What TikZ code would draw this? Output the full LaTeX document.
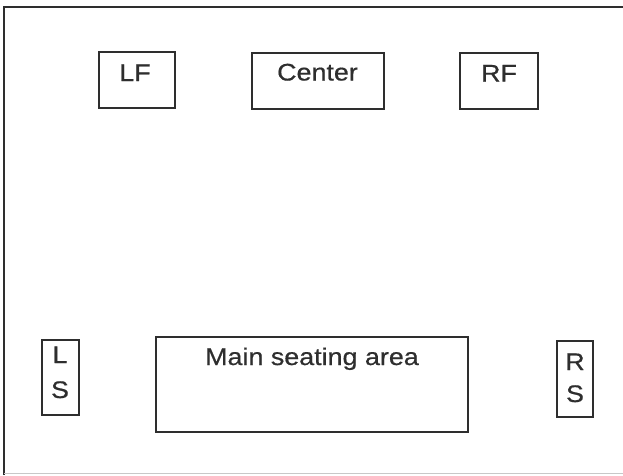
\documentclass[tikz,border=0pt]{standalone}
\usepackage{fontspec}
\newfontfamily\lblfont[FakeStretch=1.12,FakeBold=0.6]{Liberation Sans}
\definecolor{ink}{HTML}{2E2E2E}
\definecolor{faint}{HTML}{C8C8C8}
\begin{document}
\begin{tikzpicture}[x=1pt,y=-1pt,
  box/.style={draw=ink, line width=1.7pt, inner sep=0pt},
  lbl/.style={text=ink, font=\lblfont\fontsize{24}{35}\selectfont, inner sep=0pt, anchor=base},
  frame/.style={draw=ink, line width=1.7pt}]
\useasboundingbox (0,0) rectangle (623,475);
% outer frame (cut off at right and bottom)
\coordinate (fbl) at (4,475);
\coordinate (ftl) at (4,7);
\coordinate (ftr) at (623,7);
\coordinate (fbb) at (4,473);
\coordinate (fbr) at (623,473);
\draw[frame] (fbl) -- (ftl) -- (ftr);
\draw[draw=faint, line width=1pt] (fbb) -- (fbr);
% boxes
\node[box, minimum width=76pt, minimum height=56pt] (lf) at (137,80) {};
\node[box, minimum width=132pt, minimum height=56pt] (center) at (318,81) {};
\node[box, minimum width=78pt, minimum height=56pt] (rf) at (499,81) {};
\node[box, minimum width=37pt, minimum height=75pt] (ls) at (60.5,377.5) {};
\node[box, minimum width=312pt, minimum height=95pt] (main) at (312,384.5) {};
\node[box, minimum width=36pt, minimum height=76pt] (rs) at (575,379) {};
% labels
\node[lbl] (lft) at (135,81) {LF};
\node[lbl] (centert) at (317.5,80.5) {Center};
\node[lbl] (rft) at (499,81.5) {RF};
\node[lbl] (mt) at (312,365) {Main seating area};
\node[lbl] (ls1) at (60,363) {L};
\node[lbl] (ls2) at (60,398) {S};
\node[lbl] (rs1) at (575,370) {R};
\node[lbl] (rs2) at (575,402) {S};
\end{tikzpicture}
\end{document}
